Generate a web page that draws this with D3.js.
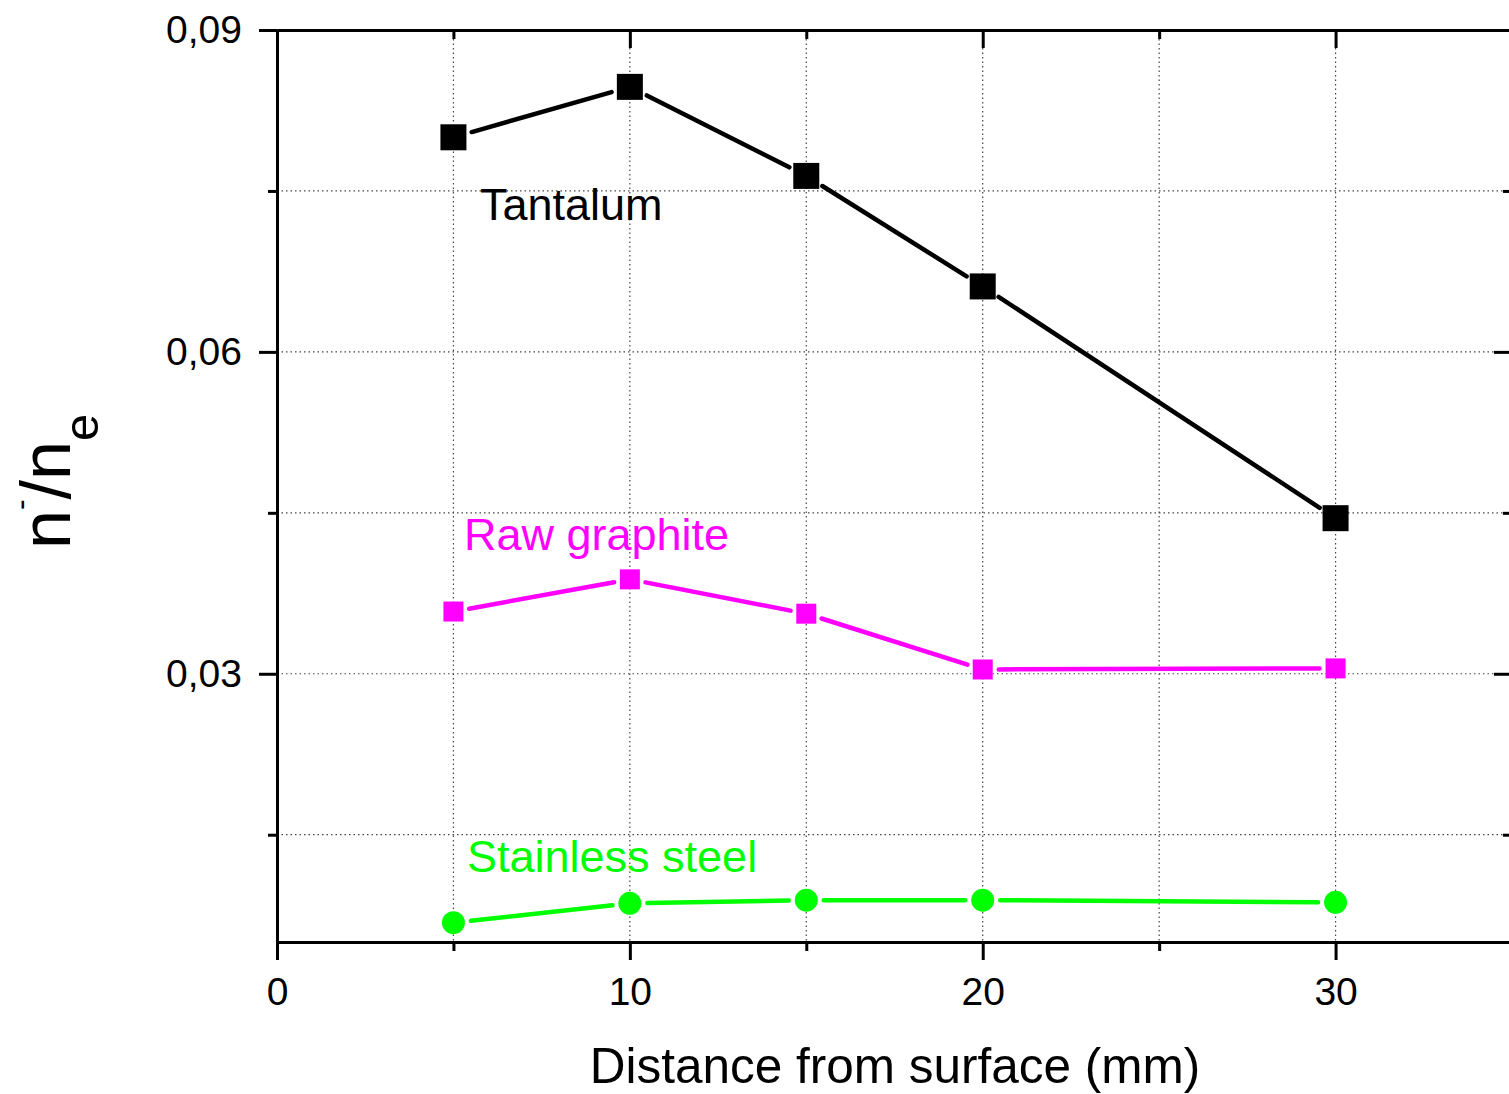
<!DOCTYPE html>
<html>
<head>
<meta charset="utf-8">
<script src="https://cdn.jsdelivr.net/npm/d3@7"></script>
<style>
  html, body { margin: 0; padding: 0; background: #fff; }
  svg { display: block; font-family: "Liberation Sans", Arial, sans-serif; }
</style>
</head>
<body>
<svg id="chart" width="1509" height="1094"></svg>
<script>
// Distance from surface (mm)
const distances = [5, 10, 15, 20, 30];
// n-/ne ratio per material
const tantalum = [0.0800, 0.0847, 0.0764, 0.0661, 0.0445];
const rawGraphite = [0.0358, 0.0388, 0.0356, 0.0304, 0.0305];
const stainlessSteel = [0.0068, 0.0086, 0.0089, 0.0089, 0.0087];

const seriesNames = ["Tantalum", "Raw graphite", "Stainless steel"];
const seriesColors = ["#000000", "#ff00ff", "#00ff00"];

const xMajorTicks = [0, 10, 20, 30];
const xMinorTicks = [5, 15, 25];
const yMajorTicks = [0.03, 0.06, 0.09];
const yMinorTicks = [0.015, 0.045, 0.075];
const xTickLabels = ["0", "10", "20", "30"];
const yTickLabels = ["0,03", "0,06", "0,09"];
const xGridTicks = [5, 10, 15, 20, 25, 30];
const yGridTicks = [0.015, 0.03, 0.045, 0.06, 0.075];

(function draw() {
  const svg = d3.select("#chart");
  const pLeft = 277, pRight = 1512, pTop = 30, pBottom = 942;

  const x = d3.scaleLinear().domain([0, 35]).range([pLeft, pRight]);
  const y = d3.scaleLinear().domain([0.005, 0.09]).range([pBottom, pTop]);
  const xFmt = d => xTickLabels[xMajorTicks.indexOf(d)];
  const yFmt = d => yTickLabels[yMajorTicks.indexOf(d)];

  // dotted grid
  const grid = svg.append("g");
  grid.selectAll("line.v").data(xGridTicks).join("line").attr("class", "v")
    .attr("x1", d => x(d)).attr("x2", d => x(d))
    .attr("y1", pTop).attr("y2", pBottom)
    .attr("stroke", "#444").attr("stroke-width", 1.2).attr("stroke-dasharray", "1.5,3");
  grid.selectAll("line.h").data(yGridTicks).join("line").attr("class", "h")
    .attr("x1", pLeft).attr("x2", pRight)
    .attr("y1", d => y(d)).attr("y2", d => y(d))
    .attr("stroke", "#444").attr("stroke-width", 1.2).attr("stroke-dasharray", "1.5,3");

  // axes
  function styleAxis(g) {
    g.selectAll("path.domain").attr("stroke", "#000").attr("stroke-width", 3);
    g.selectAll(".tick line").attr("stroke", "#000").attr("stroke-width", 3);
    g.selectAll(".tick text").attr("fill", "#000").attr("font-size", 39)
      .attr("font-family", "Liberation Sans, Arial, sans-serif");
  }
  function addAxis(axis, tx, ty) {
    const g = svg.append("g").attr("transform", `translate(${tx},${ty})`).call(axis);
    styleAxis(g);
    return g;
  }
  addAxis(d3.axisBottom(x).tickValues(xMajorTicks).tickFormat(xFmt).tickSize(18).tickSizeOuter(0).tickPadding(17), 0, pBottom);
  addAxis(d3.axisBottom(x).tickValues(xMinorTicks).tickFormat("").tickSize(9).tickSizeOuter(0), 0, pBottom);
  addAxis(d3.axisLeft(y).tickValues(yMajorTicks).tickFormat(yFmt).tickSize(18).tickSizeOuter(0).tickPadding(17), pLeft, 0);
  addAxis(d3.axisLeft(y).tickValues(yMinorTicks).tickFormat("").tickSize(9).tickSizeOuter(0), pLeft, 0);
  // mirrored top and right axes with inward ticks
  addAxis(d3.axisBottom(x).tickValues(xMajorTicks).tickFormat("").tickSize(18).tickSizeOuter(0), 0, pTop);
  addAxis(d3.axisBottom(x).tickValues(xMinorTicks).tickFormat("").tickSize(9).tickSizeOuter(0), 0, pTop);
  addAxis(d3.axisLeft(y).tickValues(yMajorTicks).tickFormat("").tickSize(18).tickSizeOuter(0), pRight, 0);
  addAxis(d3.axisLeft(y).tickValues(yMinorTicks).tickFormat("").tickSize(9).tickSizeOuter(0), pRight, 0);

  // series: lines stop short of each marker
  const allSeries = [tantalum, rawGraphite, stainlessSteel];
  const markerHalf = [13, 10, 11.5];
  allSeries.forEach((vals, i) => {
    const pts = distances.map((d, j) => [x(d), y(vals[j])]);
    const trim = markerHalf[i] + 6;
    const g = svg.append("g");
    for (let j = 0; j < pts.length - 1; j++) {
      const [x1, y1] = pts[j], [x2, y2] = pts[j + 1];
      const len = Math.hypot(x2 - x1, y2 - y1);
      const ux = (x2 - x1) / len, uy = (y2 - y1) / len;
      g.append("line")
        .attr("x1", x1 + ux * trim).attr("y1", y1 + uy * trim)
        .attr("x2", x2 - ux * trim).attr("y2", y2 - uy * trim)
        .attr("stroke", seriesColors[i]).attr("stroke-width", 4.5)
        .attr("stroke-linecap", "round");
    }
    if (i < 2) {
      g.selectAll("rect").data(pts).join("rect")
        .attr("x", p => p[0] - markerHalf[i]).attr("y", p => p[1] - markerHalf[i])
        .attr("width", markerHalf[i] * 2).attr("height", markerHalf[i] * 2)
        .attr("fill", seriesColors[i]);
    } else {
      g.selectAll("circle").data(pts).join("circle")
        .attr("cx", p => p[0]).attr("cy", p => p[1]).attr("r", markerHalf[i])
        .attr("fill", seriesColors[i]);
    }
  });

  // series labels
  const labelPos = [[480, 220], [464, 550], [467, 872]];
  seriesNames.forEach((name, i) => {
    svg.append("text")
      .attr("x", labelPos[i][0]).attr("y", labelPos[i][1])
      .attr("font-size", 45).attr("fill", seriesColors[i])
      .text(name);
  });

  // axis titles
  svg.append("text")
    .attr("x", 895).attr("y", 1083)
    .attr("text-anchor", "middle").attr("font-size", 49.5).attr("fill", "#000")
    .text("Distance from surface (mm)");

  const yt = svg.append("text")
    .attr("transform", "translate(70,549) rotate(-90)")
    .attr("font-size", 70).attr("fill", "#000");
  yt.append("tspan").text("n");
  yt.append("tspan").attr("font-size", 32).attr("dy", -39).text("-");
  yt.append("tspan").attr("dy", 39).text("/n");
  yt.append("tspan").attr("font-size", 49).attr("dy", 28).text("e");
})();
</script>
</body>
</html>
